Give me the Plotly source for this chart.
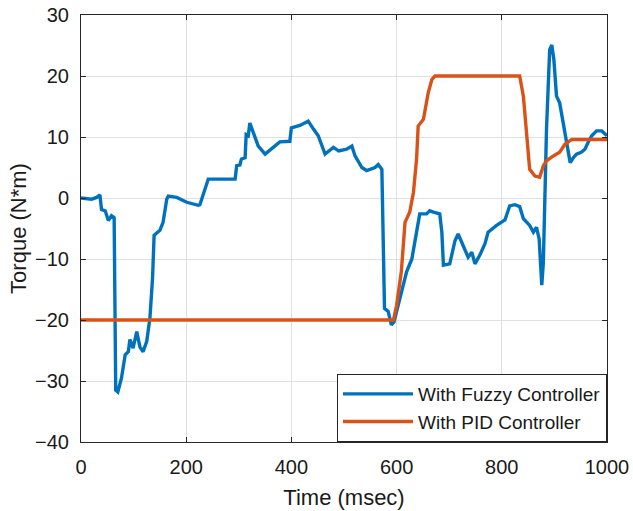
import plotly.graph_objects as go

# Time axis (msec) and torque (N*m) samples for each controller
t_fuzzy = [0, 20, 30, 36, 39, 46, 52, 58, 63, 66, 70, 77, 84, 90, 93, 99, 106, 112, 118,
           125, 131, 136, 139, 150, 156, 163, 166, 182, 201, 223, 226, 242, 264, 293, 296,
           302, 305, 312, 314, 318, 321, 327, 337, 350, 365, 378, 397, 400, 416, 432, 442,
           451, 464, 480, 490, 505, 515, 521, 534, 543, 559, 565, 572, 577, 584, 590, 595,
           606, 619, 629, 638, 644, 657, 663, 670, 682, 686, 689, 701, 711, 717, 727, 736,
           743, 749, 758, 768, 774, 790, 806, 815, 825, 834, 841, 853, 860, 866, 871, 876,
           879, 885, 891, 895, 899, 904, 910, 930, 936, 942, 951, 958, 964, 971, 980, 990,
           1000]
torque_fuzzy = [0.0, -0.2, 0.1, 0.5, -1.9, -2.1, -3.7, -2.9, -3.2, -31.5, -31.8, -29.5, -25.7,
                -25.2, -23.2, -24.6, -21.9, -24.4, -25.2, -23.5, -19.7, -13.2, -6.1, -5.3,
                -4.0, -0.2, 0.3, 0.1, -0.7, -1.2, -1.1, 3.1, 3.1, 3.1, 5.3, 5.4, 6.4, 6.6,
                10.4, 10.2, 12.3, 11.0, 8.5, 7.2, 8.3, 9.2, 9.3, 11.5, 11.9, 12.6, 11.3, 10.2,
                7.2, 8.3, 7.7, 8.0, 8.5, 6.9, 5.0, 4.5, 5.0, 5.5, 4.7, -18.1, -18.6, -20.8,
                -20.3, -16.5, -12.1, -10.0, -5.6, -2.6, -2.6, -2.1, -2.3, -2.6, -5.6, -11.0,
                -10.8, -7.0, -5.9, -7.8, -9.7, -8.9, -10.8, -9.4, -7.5, -5.6, -4.5, -3.6,
                -1.3, -1.1, -1.4, -3.4, -4.5, -5.6, -4.8, -6.7, -14.3, -10.5, 11.3, 24.3,
                25.1, 22.7, 16.7, 15.6, 5.8, 6.6, 7.2, 7.5, 8.0, 9.1, 10.2, 11.0, 11.0, 10.2]

t_pid = [0, 594, 600, 609, 616, 625, 632, 638, 641, 651, 660, 667, 673, 834, 841, 850, 853,
         863, 872, 879, 885, 898, 910, 920, 933, 1000]
torque_pid = [-20, -20, -17.6, -12.1, -4.0, -2.3, 0.9, 6.4, 11.8, 12.9, 17.2, 19.4, 20, 20,
              16.7, 6.4, 4.7, 3.6, 3.4, 5.3, 6.1, 6.9, 7.5, 8.8, 9.6, 9.6]

x_ticks = [0, 200, 400, 600, 800, 1000]
y_ticks = [-40, -30, -20, -10, 0, 10, 20, 30]

FONT = "Liberation Sans, Arial, sans-serif"
INK = "#1a1a1a"
AXIS = "#262626"
GRID = "#e0e0e0"

fig = go.Figure()
fig.add_trace(go.Scatter(x=t_fuzzy, y=torque_fuzzy, mode="lines",
                         name="With Fuzzy Controller",
                         line=dict(color="#0072BD", width=3.4)))
fig.add_trace(go.Scatter(x=t_pid, y=torque_pid, mode="lines",
                         name="With PID Controller",
                         line=dict(color="#D95319", width=3.4)))

axis_common = dict(
    showline=True, linecolor=AXIS, linewidth=1, mirror="allticks",
    ticks="inside", ticklen=5, tickcolor=AXIS, tickwidth=1,
    showgrid=True, gridcolor=GRID, gridwidth=1, zeroline=False,
    automargin=False,
    tickfont=dict(family=FONT, size=20, color=INK),
)

fig.update_xaxes(range=[0, 1000], tickvals=x_ticks, ticklabelstandoff=7,
                 title=dict(text="Time (msec)", font=dict(family=FONT, size=22, color=INK),
                            standoff=12),
                 **axis_common)
fig.update_yaxes(range=[-40, 30], tickvals=y_ticks, ticklabelstandoff=7,
                 title=dict(text="Torque (N*m)", font=dict(family=FONT, size=22, color=INK),
                            standoff=2),
                 **axis_common)

fig.update_layout(
    width=633, height=511,
    margin=dict(l=81, r=26, t=15, b=69),
    paper_bgcolor="white", plot_bgcolor="white",
    font=dict(family=FONT, color=INK),
    legend=dict(x=1, y=0, xanchor="right", yanchor="bottom",
                bgcolor="white", bordercolor=AXIS, borderwidth=1,
                font=dict(family=FONT, size=19, color=INK),
                tracegroupgap=0, itemwidth=70),
    showlegend=True,
)

fig.write_html("out.html")
